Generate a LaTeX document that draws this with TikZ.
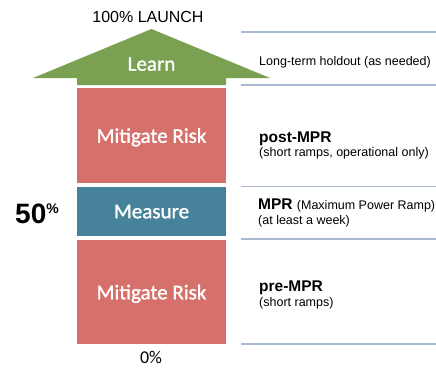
\documentclass[tikz,border=0pt]{standalone}
\usepackage{fontspec}
\newfontfamily\arialfont{Liberation Sans}
\newfontfamily\calibrifont{Carlito}
\newfontfamily\phasefont[FakeBold=1.2]{Carlito}
\usetikzlibrary{positioning}
\definecolor{learngreen}{RGB}{122,160,82}
\definecolor{riskred}{RGB}{213,113,106}
\definecolor{measureteal}{RGB}{70,131,154}
\definecolor{sepblue}{RGB}{170,186,208}

\begin{document}
\begin{tikzpicture}[x=1pt, y=-1pt,
		phase/.style={minimum width=149pt, inner sep=0pt, outer sep=0pt, text depth=0pt, text=white, font=\phasefont\fontsize{21}{21}\selectfont},
		note/.style={anchor=base west, inner sep=0pt, font=\arialfont\fontsize{12.5}{14}\selectfont},
		heading/.style={anchor=base west, inner sep=0pt, font=\arialfont\bfseries\fontsize{15.5}{17}\selectfont},
		sepline/.style={draw=sepblue, line width=1.3pt}]
			\useasboundingbox (0,0) rectangle (436,368) ;
			\node[phase, fill=riskred, minimum height=95pt] (RiskTop) at (151.5,135.5) {Mitigate Risk} ;
			\node[phase, fill=measureteal, minimum height=49pt, below=4pt of RiskTop] (Measure) {Measure} ;
			\node[phase, fill=riskred, minimum height=104pt, below=4pt of Measure] (RiskBottom) {Mitigate Risk} ;
			% the arrow head on top
			\fill[learngreen] (77,85) -- (77,78) -- (33,78) -- (151.5,29) -- (270,78) -- (226,78) -- (226,85) -- cycle ;
			\node[phase] (Learn) at (151.5,64) {Learn} ;
			\node[inner sep=0pt, font=\arialfont\fontsize{16}{16}\selectfont] (Launch) at (148,17) {100\% LAUNCH} ;
			\node[inner sep=0pt, font=\calibrifont\fontsize{18}{18}\selectfont] (Zero) at (151,357.5) {0\%} ;
			\node[anchor=base west, inner sep=0pt, font=\arialfont\bfseries\fontsize{28}{28}\selectfont] (Fifty) at (15,223) {50\raisebox{10pt}{\fontsize{14}{14}\selectfont\%}} ;
			\foreach \y in {32,85,186.5,239,344}
				\draw[sepline] (241,\y) -- (436,\y) ;
			\node[note] (Holdout) at (259,65) {Long-term holdout (as needed)} ;
			\node[heading] (PostMPR) at (259,142) {post-MPR} ;
			\node[note] (PostNote) at (259,156) {(short ramps, operational only)} ;
			\node[heading] (MPR) at (258,209) {MPR {\mdseries\fontsize{12.5}{14}\selectfont (Maximum Power Ramp)}} ;
			\node[note] (MPRNote) at (258,224) {(at least a week)} ;
			\node[heading] (PreMPR) at (259,291) {pre-MPR} ;
			\node[note] (PreNote) at (259,306) {(short ramps)} ;
		\end{tikzpicture}
\end{document}
